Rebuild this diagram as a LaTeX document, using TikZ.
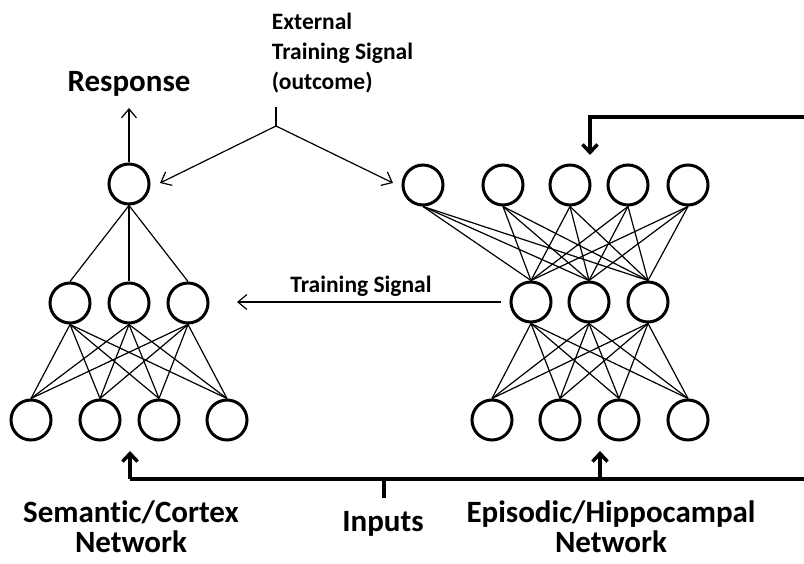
\documentclass[tikz,border=0pt]{standalone}
\usepackage{fontspec}
\setmainfont{Carlito}[Ligatures=NoCommon]
\usetikzlibrary{arrows.meta}
\tikzset{
  unit/.style={draw, circle, line width=3pt, minimum size=40pt, inner sep=0pt},
  big/.style={font=\bfseries\fontsize{31}{30}\selectfont},
  small/.style={font=\bfseries\fontsize{23.5}{30}\selectfont},
  feed/.style={-{Straight Barb[length=8pt,width=15pt]}, line width=3.5pt},
}
\begin{document}
\begin{tikzpicture}[>={Straight Barb[length=9pt,width=15pt]}, x=1pt, y=-1pt, line width=1.2pt]
\useasboundingbox (0,0) rectangle (804,564);
% semantic network
\node[unit] (lt) at (129,184) {};
\node[unit] (lm1) at (70,303) {};
\node[unit] (lm2) at (129,303) {};
\node[unit] (lm3) at (188,303) {};
\node[unit] (lb1) at (31,420) {};
\node[unit] (lb2) at (100,420) {};
\node[unit] (lb3) at (159,420) {};
\node[unit] (lb4) at (227,420) {};
\foreach \i in {1,2,3}{
  \draw (lt.south)--(lm\i.north);
  \foreach \j in {1,2,3,4} \draw (lm\i.south)--(lb\j.north);
}
% episodic network
\node[unit] (rt1) at (423,185) {};
\node[unit] (rt2) at (503,185) {};
\node[unit] (rt3) at (570,185) {};
\node[unit] (rt4) at (628,185) {};
\node[unit] (rt5) at (688,185) {};
\node[unit] (rm1) at (531,302) {};
\node[unit] (rm2) at (589,302) {};
\node[unit] (rm3) at (648,302) {};
\node[unit] (rb1) at (492,420) {};
\node[unit] (rb2) at (560,420) {};
\node[unit] (rb3) at (619,420) {};
\node[unit] (rb4) at (688,420) {};
\foreach \i in {1,2,3}{
  \foreach \k in {1,...,5} \draw (rt\k.south)--(rm\i.north);
  \foreach \j in {1,2,3,4} \draw (rm\i.south)--(rb\j.north);
}

% labels
\node[big] (resp) at (129,84) {Response};
\node[small, align=left, anchor=west] (ext) at (268,53) {External\\Training Signal\\(outcome)};
\node[small] (tsig) at (361,286) {Training Signal};
\node[big, align=center] (sem) at (131,527) {Semantic/Cortex\\Network};
\node[big] (inp) at (383,524) {Inputs};
\node[big, align=center] (epi) at (611,527) {Episodic/Hippocampal\\Network};

% thin arrows
\coordinate (resptip) at (129,108);
\coordinate (extstem) at (276,107);
\coordinate (extsplit) at (276,126);
\coordinate (exttipl) at (160,183);
\coordinate (exttipr) at (393,183);
\coordinate (tsigstart) at (501,302);
\coordinate (tsigtip) at (237,302);
\draw[->](lt.north)--(resptip);
\draw(extstem)--(extsplit);
\draw[->](extsplit)--(exttipl);
\draw[->](extsplit)--(exttipr);
\draw[->](tsigstart)--(tsigtip);

% inputs and feedback
\coordinate (inpstem) at (384,498);
\coordinate (inpbar) at (384,479);
\coordinate (inpl) at (130,479);
\coordinate (inpr) at (600,479);
\coordinate (inpend) at (804,479);
\coordinate (inpltip) at (130,451);
\coordinate (inprtip) at (600,451);
\draw[line width=3.5pt](inpstem)--(inpbar);
\draw[line width=3.5pt](inpl)--(inpend);
\draw[feed](inpl)--(inpltip);
\draw[feed](inpr)--(inprtip);
\coordinate (fbstart) at (804,117);
\coordinate (fbtip) at (590,155);
\draw[feed](fbstart)-|(fbtip);

\end{tikzpicture}
\end{document}
